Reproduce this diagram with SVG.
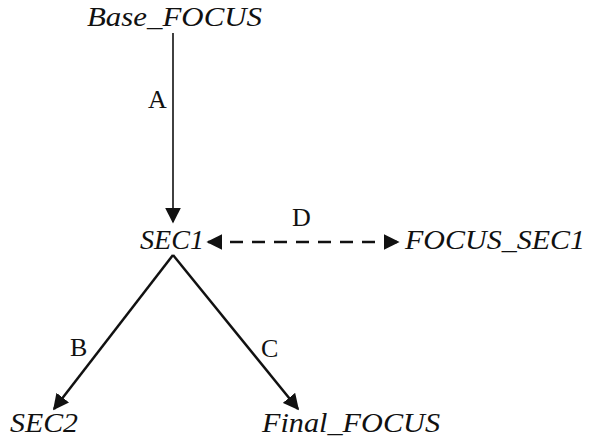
<svg xmlns="http://www.w3.org/2000/svg" width="590" height="445" viewBox="0 0 590 445">
<style>
.n{font-family:"Liberation Serif","Times New Roman",serif;font-style:italic;font-size:27px;fill:#111}
.l{font-family:"Liberation Serif","Times New Roman",serif;font-size:26px;fill:#111}
.e{stroke:#111;fill:none}
</style>
<defs>
<marker id="ahb" viewBox="0 0 10 10" refX="9" refY="5" markerWidth="16" markerHeight="16" markerUnits="userSpaceOnUse" orient="auto-start-reverse"><path d="M0,0 L10,5 L0,10 z" fill="#111"/></marker>
</defs>
<rect width="590" height="445" fill="#fff"/>
<g id="connectors">
<line class="e" x1="173" y1="33" x2="173" y2="222" stroke-width="1.6" marker-end="url(#ahb)"/>
<line class="e" x1="208" y1="242" x2="398" y2="242" stroke-width="2.5" stroke-dasharray="13,9" marker-start="url(#ahb)" marker-end="url(#ahb)"/>
<line class="e" x1="173" y1="255" x2="54" y2="409" stroke-width="2.5" marker-end="url(#ahb)"/>
<line class="e" x1="173" y1="255" x2="298" y2="409" stroke-width="2.5" marker-end="url(#ahb)"/>
<text class="l" x="148" y="108">A</text>
<text class="l" x="292" y="226">D</text>
<text class="l" x="70" y="356">B</text>
<text class="l" x="261" y="357">C</text>
</g>
<g id="base_focus"><text class="n" x="87" y="26" textLength="175" lengthAdjust="spacingAndGlyphs">Base_FOCUS</text></g>
<g id="sec1"><text class="n" x="140" y="249" textLength="64" lengthAdjust="spacingAndGlyphs">SEC1</text></g>
<g id="focus_sec1"><text class="n" x="405" y="249" textLength="180" lengthAdjust="spacingAndGlyphs">FOCUS_SEC1</text></g>
<g id="sec2"><text class="n" x="10" y="432" textLength="68" lengthAdjust="spacingAndGlyphs">SEC2</text></g>
<g id="final_focus"><text class="n" x="262" y="432" textLength="178" lengthAdjust="spacingAndGlyphs">Final_FOCUS</text></g>
</svg>
